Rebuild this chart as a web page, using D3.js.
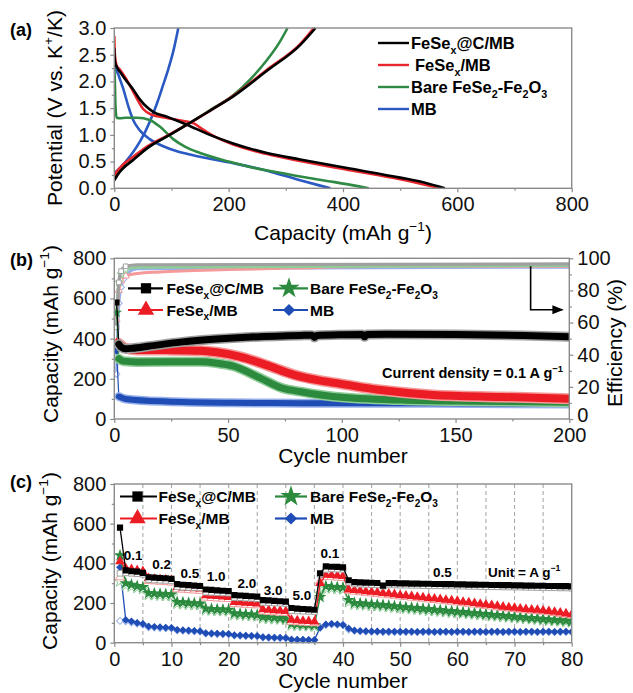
<!DOCTYPE html>
<html><head><meta charset="utf-8">
<script src="https://cdn.jsdelivr.net/npm/d3@7"></script>
<style>body{margin:0;background:#fff}</style>
</head><body><svg id="chart" width="633" height="693"></svg>
<script>
// ---------------- DATA ----------------
const seriesNames = ["FeSex@C/MB", "FeSex/MB", "Bare FeSe2-Fe2O3", "MB"];

// Panel (a): galvanostatic profiles [capacity mAh/g, potential V]
const capTicksA = [0, 200, 400, 600, 800];
const capMinorA = [100, 300, 500, 700];
const potTicksA = [0, 0.5, 1.0, 1.5, 2.0, 2.5, 3.0];
const potMinorA = [0.25, 0.75, 1.25, 1.75, 2.25, 2.75];

const aBlackDis = [[0,2.62],[1,2.38],[5,2.26],[12,2.15],[22,2.0],[33,1.85],[45,1.66],[57,1.52],[68,1.43],[92,1.34],[127,1.19],[167,1.0],[208,0.84],[267,0.66],[325,0.54],[412,0.37],[500,0.2],[545,0.1],[578,0]];
const aBlackCha = [[0,0.15],[5,0.24],[15,0.37],[33,0.53],[60,0.77],[92,0.97],[127,1.19],[167,1.45],[208,1.72],[267,2.2],[325,2.68],[352,3.0]];
const aRedDis = [[0,2.85],[1,2.5],[4,2.3],[10,2.22],[20,2.06],[30,1.87],[40,1.67],[51,1.48],[65,1.38],[90,1.32],[121,1.26],[140,1.21],[152,1.12],[170,1.0],[208,0.82],[267,0.64],[325,0.51],[412,0.34],[500,0.17],[570,0]];
const aRedCha = [[0,0.24],[5,0.32],[15,0.44],[33,0.59],[60,0.8],[92,0.98],[127,1.19],[167,1.45],[208,1.73],[267,2.22],[325,2.7],[349,3.0]];
const aGreenDis = [[0,2.25],[1,2.0],[2,1.55],[4,1.32],[10,1.31],[20,1.32],[40,1.32],[62,1.28],[80,1.15],[103,0.92],[125,0.77],[150,0.66],[200,0.5],[237,0.4],[280,0.31],[325,0.22],[383,0.12],[445,0]];
const aGreenCha = [[0,0.22],[15,0.38],[33,0.54],[60,0.77],[92,0.97],[127,1.19],[167,1.46],[208,1.74],[237,2.03],[267,2.4],[290,2.75],[303,3.0]];
const aBlueDis = [[0,2.55],[2,2.3],[8,2.1],[16,1.85],[25,1.52],[33,1.28],[45,1.08],[62,0.92],[92,0.76],[121,0.66],[150,0.59],[208,0.47],[267,0.33],[325,0.15],[360,0.05],[378,0]];
const aBlueCha = [[0,0.28],[10,0.38],[20,0.5],[33,0.68],[45,0.88],[55,1.08],[65,1.32],[75,1.6],[85,1.92],[95,2.25],[104,2.6],[112,3.0]];

// Panel (b): cycling at 0.1 A/g [cycle, value]
const cycTicksB = [0, 50, 100, 150, 200];
const cycMinorB = [25, 75, 125, 175];
const capTicksB = [0, 200, 400, 600, 800];
const capMinorB = [100, 300, 500, 700];
const effTicksB = [0, 20, 40, 60, 80, 100];
const effMinorB = [10, 30, 50, 70, 90];
const bBlack = [[1,580],[2,372],[3,358],[5,350],[8,352],[15,362],[30,384],[45,398],[60,408],[82,416],[87,417],[88,406],[89,416],[100,420],[109,421],[110,409],[111,421],[120,422],[150,421],[180,416],[200,410]];
const bRed = [[1,380],[2,376],[5,352],[10,344],[23,343],[38,340],[45,332],[55,311],[67,268],[79,220],[90,192],[99,176],[117,144],[140,120],[170,110],[200,101]];
const bGreen = [[1,530],[2,300],[4,288],[10,284],[38,285],[45,278],[52,264],[64,205],[74,153],[82,136],[96,112],[126,94],[160,88],[200,84]];
const bBlue = [[1,340],[2,112],[5,100],[23,87],[50,81],[82,79],[140,78],[200,75]];
const bBlackEff = [[1,57],[2,85],[3,92],[5,95],[10,96],[200,96.5]];
const bRedEff = [[1,62],[2,80],[3,86],[5,89],[10,90.5],[20,91.5],[50,93],[80,94],[120,95],[200,95]];
const bGreenEff = [[1,66],[2,85],[3,90],[5,93],[10,94.5],[200,95.5]];
const bBlueEff = [[1,28],[2,72],[3,82],[4,87],[6,91],[10,93.5],[200,94.5]];

// Panel (c): rate capability, cycles 1..80 [mAh/g]
const cycTicksC = [0, 10, 20, 30, 40, 50, 60, 70, 80];
const cycMinorC = [5, 15, 25, 35, 45, 55, 65, 75];
const stepLinesC = [5, 10, 15, 20, 25, 30, 35, 40, 45, 50, 55, 60, 65, 70, 75];
const capTicksC = [0, 200, 400, 600, 800];
const capMinorC = [100, 300, 500, 700];
const cBlackDis = [580,365,360,358,352, 330,328,326,325,322, 295,292,290,288,286, 268,266,264,262,260, 240,238,236,234,232, 215,213,211,209,207, 175,172,170,168,166, 350,385,383,382,380,
  315,305,304,303,302,301,288,300,300,299, 299,298,298,297,297,296,296,295,295,294, 294,293,293,292,292,291,291,290,290,289, 289,288,288,287,287,286,286,285,285,284];
const cBlackCha = [350,352,350,348,345, 318,316,315,314,312, 282,280,279,278,276, 255,254,252,251,250, 228,227,225,224,222, 203,202,200,199,198, 162,160,159,158,157, 345,370,372,371,370,
  305,296,295,294,293,292,285,291,291,290, 290,289,289,288,288,287,287,286,286,285, 285,284,284,283,283,282,282,281,281,280, 280,279,279,278,278,277,277,276,276,275];
const cRedDis = [410,375,370,365,360, 325,322,320,318,315, 280,278,276,274,272, 238,236,234,232,230, 205,203,201,199,197, 168,165,163,161,159, 115,112,110,108,106, 300,342,340,338,336,
  268,265,262,259,256,253,250,247,244,240, 237,234,231,228,225,222,219,216,213,210, 206,203,199,196,192,189,185,181,178,175, 172,169,167,165,162,159,155,151,147,143];
const cRedCha = [330,355,352,350,347, 312,310,308,306,304, 270,268,266,264,262, 228,226,224,222,221, 196,194,192,190,189, 158,156,154,152,151, 106,104,102,100,99, 310,332,331,329,327,
  262,258,255,252,249,246,243,240,237,234, 231,228,225,222,219,216,213,210,207,204, 200,197,193,190,186,183,179,176,173,170, 167,164,162,160,157,154,150,146,142,138];
const cGreenDis = [440,300,292,285,280, 250,248,246,245,244, 205,203,201,199,197, 172,170,168,167,166, 148,146,144,142,140, 130,128,126,124,122, 95,93,91,90,88, 230,285,282,280,278,
  215,200,198,196,194,192,190,187,184,181, 179,176,174,171,169,166,164,161,159,156, 154,151,149,146,144,141,139,136,134,131, 129,126,124,122,119,117,115,113,111,109];
const cGreenCha = [310,290,283,277,272, 242,240,238,237,236, 197,195,193,191,190, 165,163,161,160,159, 141,139,137,135,134, 123,121,119,118,116, 88,86,85,84,82, 245,276,274,272,270,
  205,193,191,189,187,185,183,180,177,175, 172,170,167,165,162,160,157,155,152,150, 148,145,143,140,138,135,133,130,128,126, 123,121,119,117,114,112,110,108,106,104];
const cBlueDis = [380,115,108,100,95, 82,80,78,76,75, 65,63,62,60,58, 48,47,46,45,44, 38,37,36,35,34, 28,27,26,25,24, 16,15,15,14,14, 75,92,95,93,90,
  72,62,59,58,57,57,56,56,56,56, 56,56,55,56,56,55,56,56,55,56, 56,55,56,56,55,56,56,55,56,56, 55,56,56,55,56,56,55,56,56,55];
const cBlueCha = [110,108,102,96,91, 78,76,74,73,72, 62,60,59,57,56, 46,45,44,43,42, 36,35,34,33,32, 26,25,24,23,22, 15,14,14,13,13, 80,89,92,90,88,
  66,60,57,56,55,55,54,54,54,54, 54,54,53,54,54,53,54,54,53,54, 54,53,54,54,53,54,54,53,54,54, 53,54,54,53,54,54,53,54,54,53];
const rateLabelsC = ["0.1", "0.2", "0.5", "1.0", "2.0", "3.0", "5.0", "0.1", "0.5"];

// ---------------- STYLE / LAYOUT ----------------
const FONT = '"Liberation Sans", Arial, Helvetica, sans-serif';
const COL = ["#000000", "#ec1c24", "#2b8a3e", "#1f4db5"];
const LIGHT = ["#a0a0a0", "#f59a9a", "#8fcc98", "#98b0ea"];
const LINE_A = ["#000000", "#e8262d", "#2f8a45", "#2b59c3"];
const SHAPES = ["square", "triangle", "star", "diamond"];
const FRAME = "#8a8a8a";

const svg = d3.select("#chart");
svg.append("rect").attr("width", 633).attr("height", 693).attr("fill", "#fff");

function rich(sel, parts, fs) {
  let off = 0;
  parts.forEach(([s, k]) => {
    const target = k === "sub" ? fs * 0.32 : k === "sup" ? -fs * 0.42 : 0;
    const t = sel.append("tspan").text(s).attr("dy", target - off);
    off = target;
    if (k) t.attr("font-size", fs * 0.65);
  });
  return sel;
}
function label(x, y, parts, fs, opts = {}) {
  const t = svg.append("text").attr("x", x).attr("y", y)
    .attr("font-family", FONT).attr("font-size", fs)
    .attr("font-weight", opts.bold ? "bold" : "normal")
    .attr("text-anchor", opts.anchor || "start").attr("fill", "#000");
  if (opts.rotate) t.attr("transform", `rotate(-90,${x},${y})`);
  return rich(t, parts, fs);
}
function symPath(shape, size) {
  const type = shape === "square" || shape === "diamond" ? d3.symbolSquare
    : shape === "triangle" ? d3.symbolTriangle : d3.symbolStar;
  return d3.symbol().type(type).size(size)();
}
function marker(g, shape, x, y, size, fill, stroke, sw) {
  g.append("path").attr("d", symPath(shape, size))
    .attr("transform", `translate(${x},${y})` + (shape === "diamond" ? " rotate(45)" : ""))
    .attr("fill", fill).attr("stroke", stroke || "none").attr("stroke-width", sw || 0);
}
function styleAxis(g) {
  g.select(".domain").remove();
  g.selectAll(".tick line").attr("stroke", FRAME).attr("stroke-width", 1.2);
  g.selectAll("text").attr("font-family", FONT).attr("font-size", 20).attr("fill", "#111");
}
function axes(x, y, xt, xm, yt, ym, fy, yRight, yrt, yrm) {
  const yb = y.range()[0], yt0 = y.range()[1], x0 = x.range()[0], x1 = x.range()[1];
  svg.append("g").attr("transform", `translate(0,${yb})`)
    .call(d3.axisBottom(x).tickValues(xt).tickSize(4).tickPadding(5).tickFormat(d3.format("d"))).call(styleAxis);
  svg.append("g").attr("transform", `translate(0,${yb})`)
    .call(d3.axisBottom(x).tickValues(xm).tickSize(2.5).tickFormat("")).call(styleAxis);
  svg.append("g").attr("transform", `translate(${x0},0)`)
    .call(d3.axisLeft(y).tickValues(yt).tickSize(4).tickPadding(4).tickFormat(fy)).call(styleAxis);
  svg.append("g").attr("transform", `translate(${x0},0)`)
    .call(d3.axisLeft(y).tickValues(ym).tickSize(2.5).tickFormat("")).call(styleAxis);
  if (yRight) {
    const gr = svg.append("g").attr("transform", `translate(${x1},0)`)
      .call(d3.axisRight(yRight).tickValues(yrt).tickSize(4).tickPadding(4).tickFormat(d3.format("d"))).call(styleAxis);
    // lowest right label sits slightly above its tick (as in the original)
    gr.selectAll(".tick").filter(d => d === yrt[0]).select("text").attr("dy", "0.1em");
    svg.append("g").attr("transform", `translate(${x1},0)`)
      .call(d3.axisRight(yRight).tickValues(yrm).tickSize(2.5).tickFormat("")).call(styleAxis);
  }
  svg.append("rect").attr("x", x0).attr("y", yt0).attr("width", x1 - x0).attr("height", yb - yt0)
    .attr("fill", "none").attr("stroke", FRAME).attr("stroke-width", 1.4);
}
function clipG(id, x, y) {
  svg.append("clipPath").attr("id", id).append("rect")
    .attr("x", x.range()[0]).attr("y", y.range()[1] - 1)
    .attr("width", x.range()[1] - x.range()[0]).attr("height", y.range()[0] - y.range()[1] + 2);
  return svg.append("g").attr("clip-path", `url(#${id})`);
}
const capLabel = [["Capacity (mAh g"], ["\u22121", "sup"], [")"]];
const nameParts = [
  [["FeSe"], ["x", "sub"], ["@C/MB"]],
  [["FeSe"], ["x", "sub"], ["/MB"]],
  [["Bare FeSe"], ["2", "sub"], ["-Fe"], ["2", "sub"], ["O"], ["3", "sub"]],
  [["MB"]]
];

// ---------------- PANEL (a) ----------------
const xA = d3.scaleLinear().domain([0, 800]).range([114.3, 571.7]);
const yA = d3.scaleLinear().domain([0, 3]).range([188.3, 28]);
const gA = clipG("clipA", xA, yA);
const lineA = d3.line().x(d => xA(d[0])).y(d => yA(d[1])).curve(d3.curveMonotoneX);
const curvesA = [[aBlackDis, aBlackCha], [aRedDis, aRedCha], [aGreenDis, aGreenCha], [aBlueDis, aBlueCha]];
[3, 2, 1, 0].forEach(i => {
  curvesA[i].forEach(c => gA.append("path").attr("d", lineA(c)).attr("fill", "none")
    .attr("stroke", LINE_A[i]).attr("stroke-width", 2.6).attr("stroke-linejoin", "round"));
});
axes(xA, yA, capTicksA, capMinorA, potTicksA, potMinorA, d3.format(".1f"));
// legend (a)
[43, 65, 87, 109].forEach((ly, i) => {
  svg.append("line").attr("x1", 378).attr("x2", 409).attr("y1", ly).attr("y2", ly)
    .attr("stroke", LINE_A[i]).attr("stroke-width", 2.4);
  label(i === 1 ? 415 : 411, ly + 6, nameParts[i], 16.5, { bold: true });
});
label(10, 36, [["(a)"]], 18, { bold: true });
label(62, 108, [["Potential (V vs. K"], ["+", "sup"], ["/K)"]], 21, { anchor: "middle", rotate: true }).attr("dy", "0.35em");
label(343, 240, capLabel, 21, { anchor: "middle" });

// ---------------- PANEL (b) ----------------
const xB = d3.scaleLinear().domain([0, 200]).range([114.3, 569.3]);
const yB = d3.scaleLinear().domain([0, 800]).range([419, 258.3]);
const yB2 = d3.scaleLinear().domain([0, 100]).range([419, 258.3]);
const gB = clipG("clipB", xB, yB);
const capB = [bBlack, bRed, bGreen, bBlue];
const effB = [bBlackEff, bRedEff, bGreenEff, bBlueEff];
const lineB = d3.line().x(d => xB(d[0])).y(d => yB(d[1])).curve(d3.curveMonotoneX);
const lineE = d3.line().x(d => xB(d[0])).y(d => yB2(d[1])).curve(d3.curveMonotoneX);
// efficiency bands
[3, 1, 2, 0].forEach(i => {
  gB.append("path").attr("d", lineE(effB[i])).attr("fill", "none")
    .attr("stroke", LIGHT[i]).attr("stroke-width", i === 0 ? 3.2 : 3).attr("stroke-linejoin", "round");
  effB[i].filter(d => d[0] <= 5).forEach(d =>
    marker(gB, SHAPES[i], xB(d[0]), yB2(d[1]), 22, "#fff", LIGHT[i], 1));
});
// capacity bands
const bandW = [7, 8, 7, 6];
[3, 2, 1, 0].forEach(i => {
  const d = capB[i];
  gB.append("path").attr("d", lineB(d.slice(0, 2))).attr("fill", "none").attr("stroke", COL[i]).attr("stroke-width", 1.2);
  gB.append("path").attr("d", lineB(d.slice(1))).attr("fill", "none")
    .attr("stroke", LIGHT[i]).attr("stroke-width", bandW[i] + 3).attr("stroke-linejoin", "round").attr("stroke-linecap", "round");
  gB.append("path").attr("d", lineB(d.slice(1))).attr("fill", "none")
    .attr("stroke", COL[i]).attr("stroke-width", bandW[i]).attr("stroke-linejoin", "round").attr("stroke-linecap", "round");
  marker(gB, SHAPES[i], xB(d[0][0]), yB(d[0][1]), 36, COL[i]);
});
// arrow to right axis
const arrowPts = [[183, 95], [183, 68], [197, 68]];
svg.append("defs").append("marker").attr("id", "arr").attr("viewBox", "0 0 10 10")
  .attr("refX", 9).attr("refY", 5).attr("markerWidth", 7).attr("markerHeight", 7).attr("orient", "auto")
  .append("path").attr("d", "M0,1 L10,5 L0,9 Z").attr("fill", "#000");
svg.append("path").attr("d", d3.line()(arrowPts.map(p => [xB(p[0]), yB2(p[1])])))
  .attr("fill", "none").attr("stroke", "#000").attr("stroke-width", 1.6).attr("marker-end", "url(#arr)");
axes(xB, yB, cycTicksB, cycMinorB, capTicksB, capMinorB, d3.format("d"), yB2, effTicksB, effMinorB);

function legendBC(rows, lineX, markX, textX) {
  [0, 1, 2, 3].forEach(i => {
    const row = [0, 1, 0, 1][i], col = [0, 0, 1, 1][i];
    const ly = rows[row];
    svg.append("line").attr("x1", lineX[col][0]).attr("x2", lineX[col][1]).attr("y1", ly).attr("y2", ly)
      .attr("stroke", COL[i]).attr("stroke-width", 2.2);
    const sz = [105, 115, 140, 75][i];
    marker(svg, SHAPES[i], markX[col], ly, sz, COL[i]);
    label(textX[col], ly + 5.5, nameParts[i], 15.5, { bold: true });
  });
}
legendBC([288.3, 310], [[128, 163], [273, 308]], [146, 289], [166.5, 310]);
label(10, 266, [["(b)"]], 18, { bold: true });
label(58, 334, capLabel, 21, { anchor: "middle", rotate: true }).attr("dy", "0.35em");
label(622, 343, [["Efficiency (%)"]], 21, { anchor: "middle", rotate: true }).attr("dy", "0.35em");
label(343, 463, [["Cycle number"]], 21, { anchor: "middle" });
label(563, 378, [["Current density = 0.1 A g"], ["\u22121", "sup"]], 14.5, { bold: true, anchor: "end" });

// ---------------- PANEL (c) ----------------
const xC = d3.scaleLinear().domain([0, 80]).range([114.3, 571.7]);
const yC = d3.scaleLinear().domain([0, 800]).range([642.7, 484]);
const gC = clipG("clipC", xC, yC);
stepLinesC.forEach(c => gC.append("line").attr("x1", xC(c)).attr("x2", xC(c))
  .attr("y1", yC.range()[1]).attr("y2", yC.range()[0])
  .attr("stroke", "#a9a9a9").attr("stroke-width", 1.1).attr("stroke-dasharray", "4,3"));
const disC = [cBlackDis, cRedDis, cGreenDis, cBlueDis];
const chaC = [cBlackCha, cRedCha, cGreenCha, cBlueCha];
const lineC = d3.line().x((d, k) => xC(k + 1)).y(d => yC(d));
const sizeC = [38, 42, 50, 30];
[3, 2, 1, 0].forEach(i => {
  gC.append("path").attr("d", lineC(chaC[i])).attr("fill", "none").attr("stroke", LIGHT[i]).attr("stroke-width", 1);
  chaC[i].forEach((v, k) => marker(gC, SHAPES[i], xC(k + 1), yC(v), sizeC[i] - 6, "#fff", LIGHT[i], 1));
  gC.append("path").attr("d", lineC(disC[i])).attr("fill", "none").attr("stroke", COL[i]).attr("stroke-width", 1.3);
  disC[i].forEach((v, k) => marker(gC, SHAPES[i], xC(k + 1), yC(v), sizeC[i], COL[i]));
});
axes(xC, yC, cycTicksC, cycMinorC, capTicksC, capMinorC, d3.format("d"));
legendBC([496.5, 518.5], [[120, 157], [275, 307]], [137.5, 291], [158.5, 310]);
// rate labels (positions in data coordinates: cycle, capacity)
const rateLabelPos = [[3.3, 442], [8.3, 397], [13.2, 350], [17.8, 336], [23.2, 299], [27.8, 266], [32.8, 240], [37.7, 451], [57.4, 358]];
rateLabelsC.forEach((t, i) => label(xC(rateLabelPos[i][0]), yC(rateLabelPos[i][1]) + 5, [[t]], 13.5, { bold: true, anchor: "middle" }));
label(xC(71.7), yC(358) + 5, [["Unit = A g"], ["\u22121", "sup"]], 13.5, { bold: true, anchor: "middle" });
label(10, 488, [["(c)"]], 18, { bold: true });
label(57, 561, capLabel, 21, { anchor: "middle", rotate: true }).attr("dy", "0.35em");
label(343, 688, [["Cycle number"]], 21, { anchor: "middle" });
</script></body></html>
